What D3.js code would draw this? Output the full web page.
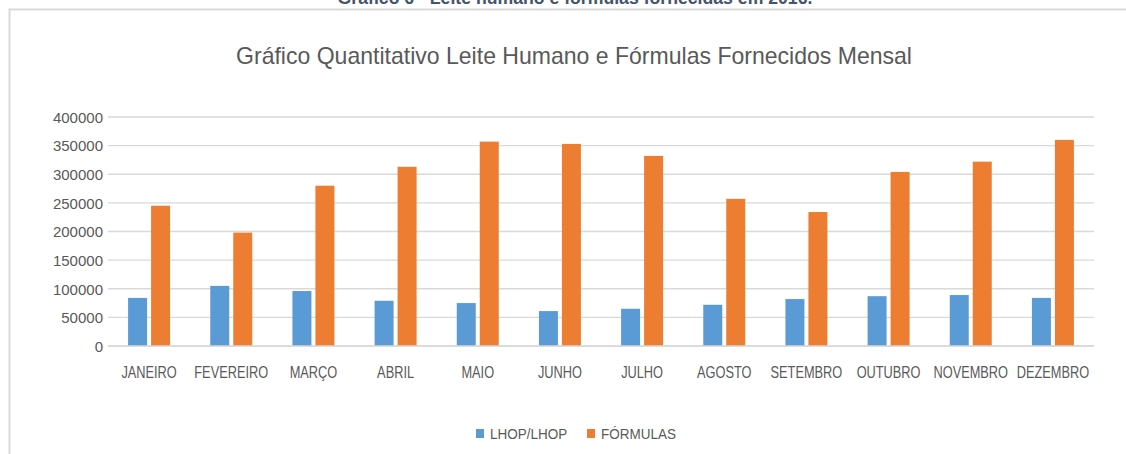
<!DOCTYPE html>
<html><head><meta charset="utf-8">
<script src="https://cdn.jsdelivr.net/npm/d3@7"></script>
<style>body{margin:0;background:#fff}svg{display:block}</style>
</head><body>
<svg id="c" width="1126" height="454"></svg>
<script>
const months = ["JANEIRO","FEVEREIRO","MARÇO","ABRIL","MAIO","JUNHO","JULHO","AGOSTO","SETEMBRO","OUTUBRO","NOVEMBRO","DEZEMBRO"];
const seriesNames = ["LHOP/LHOP","FÓRMULAS"];
const lhop = [84000,105000,96000,79000,75000,61000,65000,72000,82000,87000,89000,84000];
const formulas = [245000,198000,280000,313000,357000,353000,332000,257000,234000,304000,322000,360000];
const yTicks = [0,50000,100000,150000,200000,250000,300000,350000,400000];
const colors = ["#5b9bd5","#ed7d31"];
const captionText = "Gráfico 6 - Leite humano e fórmulas fornecidas em 2016.";
const titleText = "Gráfico Quantitativo Leite Humano e Fórmulas Fornecidos Mensal";

const svg = d3.select("#c");
const F = "'Liberation Sans', Arial, sans-serif";
// horizontally condensed text via transform (keeps real text)
const condensedText = (parent, x, y, k, anchor) =>
  parent.append("text").attr("transform",`translate(${x},${y}) scale(${k},1)`).attr("text-anchor",anchor||"start");

// caption (cut off at top, as in the source image)
condensedText(svg,575,4,0.93,"middle")
  .attr("font-family",F).attr("font-weight","bold").attr("font-size",19)
  .attr("fill","#44546a").text(captionText);

// frame
svg.append("rect").attr("x",9.5).attr("y",9.5).attr("width",1200).attr("height",500)
  .attr("fill","none").attr("stroke","#d9d9d9").attr("stroke-width",2);

const L=108,R=1094,T=117,B=346;
const x0 = d3.scaleBand().domain(months).range([L,R]).paddingInner(0.489).paddingOuter(0.2445);
const x1 = d3.scaleBand().domain(seriesNames).range([0,x0.bandwidth()]).paddingInner(0.174).paddingOuter(0);
const y = d3.scaleLinear().domain([0,400000]).range([B,T]);

// title
condensedText(svg,574,64,0.96,"middle")
  .attr("font-family",F).attr("font-size",24).attr("fill","#595959").text(titleText);

// gridlines
svg.append("g").selectAll("line").data(yTicks).join("line")
  .attr("x1",L).attr("x2",R).attr("y1",d=>y(d)).attr("y2",d=>y(d))
  .attr("stroke","#d9d9d9").attr("stroke-width",1.3);

// y axis labels
const yAxis = d3.axisLeft(y).tickValues(yTicks).tickSize(0).tickPadding(0).tickFormat(d3.format("d"));
const ya = svg.append("g").attr("transform",`translate(${L-5},0)`).call(yAxis);
ya.select(".domain").remove();
ya.selectAll("text").attr("font-family",F).attr("font-size",15).attr("fill","#595959").attr("dy","0.35em");

// bars
const data = months.map((m,i)=>({m, vals:[lhop[i],formulas[i]]}));
const g = svg.append("g").selectAll("g").data(data).join("g")
  .attr("transform",d=>`translate(${x0(d.m)},0)`);
g.selectAll("rect").data(d=>d.vals.map((v,j)=>({s:seriesNames[j],v,j}))).join("rect")
  .attr("x",d=>x1(d.s)).attr("width",x1.bandwidth())
  .attr("y",d=>y(d.v)).attr("height",d=>B-y(d.v)).attr("fill",d=>colors[d.j]);

// baseline
svg.append("line").attr("x1",L).attr("x2",R).attr("y1",B).attr("y2",B).attr("stroke","#d9d9d9").attr("stroke-width",1.5);

// x axis labels
const xAxis = d3.axisBottom(x0).tickSize(0).tickPadding(0);
const xa = svg.append("g").attr("transform",`translate(0,${B})`).call(xAxis);
xa.select(".domain").remove();
xa.selectAll("text").attr("font-family",F).attr("font-size",16).attr("fill","#595959")
  .attr("y",32).attr("dy",0).attr("transform","scale(0.8,1)");

// legend
const leg = svg.append("g");
const legX = [476,587];
seriesNames.forEach((s,i)=>{
  leg.append("rect").attr("x",legX[i]).attr("y",429).attr("width",8).attr("height",9).attr("fill",colors[i]);
  condensedText(leg,legX[i]+14,439,0.9).attr("font-family",F).attr("font-size",15)
    .attr("fill","#595959").text(s);
});
</script>
</body></html>
